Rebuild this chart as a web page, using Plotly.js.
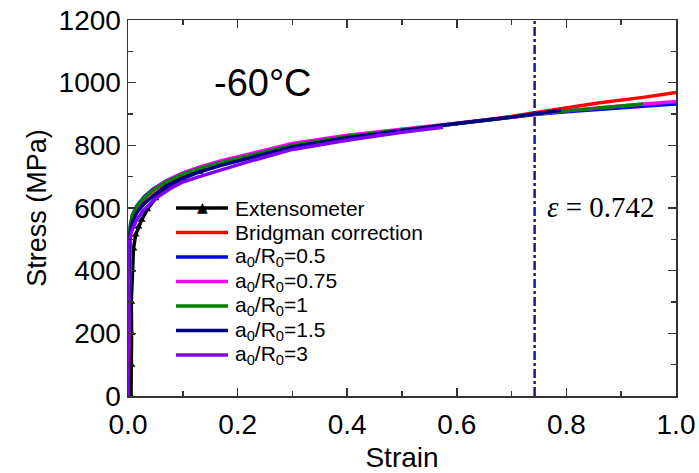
<!DOCTYPE html>
<html>
<head>
<meta charset="utf-8">
<script src="https://cdn.plot.ly/plotly-3.0.1.min.js"></script>
<style>html,body{margin:0;padding:0;background:#fff;}#chart{width:699px;height:473px;}</style>
</head>
<body>
<div id="chart"></div>
<script>
// ---- data ----
const extStrain = [0.0055, 0.0065, 0.0065, 0.006, 0.0075, 0.01, 0.014, 0.019, 0.025, 0.035, 0.05, 0.07, 0.1, 0.13, 0.16, 0.2];
const extStress = [0, 99, 200, 300, 402, 470, 515, 540, 562, 595, 630, 665, 695, 715, 735, 755];

const redStrain = [0, 0.003, 0.004, 0.008, 0.016, 0.03, 0.046, 0.07, 0.1, 0.13, 0.17, 0.22, 0.3, 0.4, 0.5, 0.6, 0.68, 0.742, 0.8, 0.861, 0.94, 1.0];
const redStress = [0, 300, 500, 565, 600, 630, 655, 682, 706, 724, 744, 764, 798, 826, 848, 870, 887, 904, 920, 936, 953, 969];

const blueStrain = [0, 0.002, 0.004, 0.008, 0.016, 0.03, 0.046, 0.07, 0.1, 0.13, 0.17, 0.22, 0.3, 0.4, 0.5, 0.6, 0.68, 0.742, 0.8, 0.861, 0.94, 1.0];
const blueStress = [0, 460, 535, 575, 607, 637, 661, 687, 711, 729, 748, 768, 800, 828, 849, 869, 884, 898, 907, 916, 925, 932];

const magStrain = [0, 0.003, 0.004, 0.008, 0.016, 0.03, 0.046, 0.07, 0.1, 0.13, 0.17, 0.22, 0.3, 0.4, 0.5, 0.6, 0.68, 0.742, 0.8, 0.861, 0.94, 1.0];
const magStress = [0, 430, 520, 568, 603, 634, 659, 686, 711, 730, 751, 772, 806, 832, 852, 871, 886, 900, 910, 920, 931, 940];

const greenStrain = [0, 0.002, 0.004, 0.008, 0.016, 0.03, 0.046, 0.07, 0.1, 0.13, 0.17, 0.22, 0.3, 0.4, 0.5, 0.6, 0.68, 0.742, 0.8, 0.861, 0.94];
const greenStress = [0, 480, 545, 578, 606, 634, 658, 684, 708, 726, 745, 766, 800, 828, 850, 870, 886, 900, 910, 920, 932];

const navyStrain = [0, 0.002, 0.004, 0.008, 0.016, 0.03, 0.05, 0.07, 0.1, 0.13, 0.17, 0.22, 0.3, 0.4, 0.5, 0.6, 0.7, 0.742, 0.79];
const navyStress = [0, 470, 520, 555, 585, 615, 645, 670, 695, 715, 736, 758, 795, 824, 847, 870, 890, 900, 912];

const purpStrain = [0, 0.001, 0.005, 0.015, 0.027, 0.05, 0.08, 0.1, 0.13, 0.17, 0.22, 0.3, 0.4, 0.5, 0.575];
const purpStress = [0, 480, 520, 560, 590, 630, 665, 683, 700, 722, 748, 787, 816, 842, 858];

const markStrain = [0.742, 0.742];
const markStress = [0, 1200];

const names = ['Extensometer', 'Bridgman correction', 'a<sub>0</sub>/R<sub>0</sub>=0.5',
  'a<sub>0</sub>/R<sub>0</sub>=0.75', 'a<sub>0</sub>/R<sub>0</sub>=1',
  'a<sub>0</sub>/R<sub>0</sub>=1.5', 'a<sub>0</sub>/R<sub>0</sub>=3'];
const colors = ['#000000', '#FF0000', '#0000FF', '#FF00FF', '#008000', '#000080', '#8000FF'];

const xTickVals = [0, 0.2, 0.4, 0.6, 0.8, 1.0];
const xTickText = ['0.0', '0.2', '0.4', '0.6', '0.8', '1.0'];
const yTickVals = [0, 200, 400, 600, 800, 1000, 1200];

const FONT = 'Liberation Sans, Arial, sans-serif';
const LW = 3.5;

const series = [
  [extStrain, extStress], [redStrain, redStress], [blueStrain, blueStress],
  [magStrain, magStress], [greenStrain, greenStress], [navyStrain, navyStress],
  [purpStrain, purpStress]
];

const traces = series.map((s, i) => {
  const t = {x: s[0], y: s[1], name: names[i], mode: 'lines', showlegend: false,
             line: {color: colors[i], width: LW}};
  if (i === 0) {
    t.mode = 'lines+markers';
    t.marker = {symbol: 'triangle-up', size: 7, color: colors[0]};
  }
  return t;
});
traces.push({x: markStrain, y: markStress, mode: 'lines', showlegend: false, hoverinfo: 'skip',
   line: {color: '#1a1a8c', width: 2.5, dash: 'dashdot'}});

// ---- legend (drawn as shapes + annotations in paper space) ----
const legX0 = 0.0876, legX1 = 0.1825, legTextX = 0.1916, legY0 = 0.5, legStep = 0.0652;
const shapes = [];
const annotations = [
  {x: 0.246, y: 1000, xref: 'x', yref: 'y', text: '-60°C', showarrow: false,
   font: {family: FONT, size: 38, color: '#000'}},
  {x: 0.863, y: 603, xref: 'x', yref: 'y', text: '<i>ε</i> = 0.742', showarrow: false,
   font: {family: 'Liberation Serif, Times New Roman, serif', size: 29, color: '#000'}}
];
names.forEach((n, i) => {
  const yy = legY0 - i * legStep;
  shapes.push({type: 'line', xref: 'paper', yref: 'paper', x0: legX0, x1: legX1, y0: yy, y1: yy,
               line: {color: colors[i], width: LW}, layer: 'above'});
  annotations.push({x: legTextX, y: yy, xref: 'paper', yref: 'paper', xanchor: 'left', yanchor: 'middle',
                    text: n, showarrow: false, font: {family: FONT, size: 21, color: '#000'}});
});
annotations.push({x: (legX0 + legX1) / 2, y: legY0, xref: 'paper', yref: 'paper', xanchor: 'center',
                  yanchor: 'middle', text: '▲', showarrow: false, yshift: 1,
                  font: {family: 'DejaVu Sans', size: 14, color: colors[0]}});

const axisCommon = {
  showline: true, linecolor: '#333333', linewidth: 1.5, mirror: 'allticks',
  ticks: 'inside', ticklen: 8, tickwidth: 1.5, tickcolor: '#333333',
  showgrid: false, zeroline: false
};

const layout = {
  width: 699, height: 473,
  margin: {l: 128, r: 23, t: 20, b: 77},
  paper_bgcolor: '#fff', plot_bgcolor: '#fff',
  font: {family: FONT, color: '#000'},
  showlegend: false,
  xaxis: Object.assign({}, axisCommon, {
    range: [0, 1.0], tickvals: xTickVals, ticktext: xTickText,
    tickfont: {family: FONT, size: 28, color: '#000'}, ticklabelstandoff: 3,
    minor: {dtick: 0.1, tick0: 0, ticks: 'inside', ticklen: 5, tickwidth: 1.5, tickcolor: '#333333'},
    title: {text: 'Strain', font: {family: FONT, size: 28, color: '#000'}, standoff: 10}
  }),
  yaxis: Object.assign({}, axisCommon, {
    range: [0, 1200], tickvals: yTickVals,
    tickfont: {family: FONT, size: 28, color: '#000'},
    minor: {dtick: 100, tick0: 0, ticks: 'inside', ticklen: 5, tickwidth: 1.5, tickcolor: '#333333'},
    title: {text: 'Stress (MPa)', font: {family: FONT, size: 27, color: '#000'}, standoff: 4}
  }),
  shapes: shapes,
  annotations: annotations
};

Plotly.newPlot('chart', traces, layout, {staticPlot: true, displayModeBar: false});
</script>
</body>
</html>
